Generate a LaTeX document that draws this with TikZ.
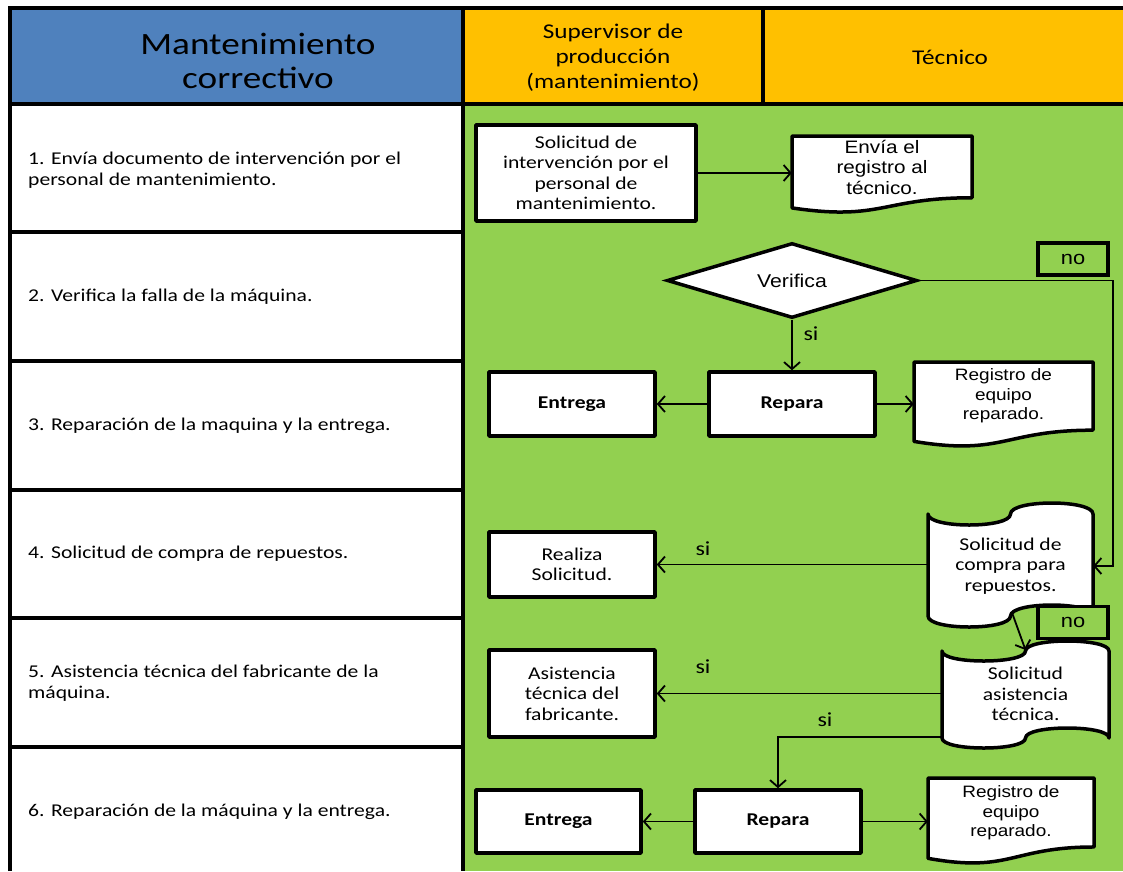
\documentclass[tikz,border=0pt]{standalone}
\usepackage{fontspec}
\setmainfont[FakeStretch=1.2]{Carlito}
\newfontfamily\arialS[FakeStretch=1.15]{Liberation Sans}
\usetikzlibrary{arrows.meta,calc,shapes.geometric}
\definecolor{hblue}{HTML}{4F81BD}
\definecolor{horange}{HTML}{FFC000}
\definecolor{lgreen}{HTML}{92D050}
\newcommand\docshape[4]{% x1, y1, x2, h
  \filldraw[shp] (#1,#2) -- (#3,#2) -- (#3,{#2+0.802*#4})
    .. controls ({(#1+#3)/2},{#2+0.802*#4}) and ({(#1+#3)/2},{#2+1.1075*#4}) .. (#1,{#2+0.934*#4}) -- cycle;}
\newcommand\tapeshape[5]{% x1, y1, x2, y2, a
  \filldraw[shp] (#1,{#2+#5})
    .. controls (#1,{#2+#5+1.333*#5}) and ({(#1+#3)/2},{#2+#5+1.333*#5}) .. ({(#1+#3)/2},{#2+#5})
    .. controls ({(#1+#3)/2},{#2+#5-1.333*#5}) and (#3,{#2+#5-1.333*#5}) .. (#3,{#2+#5})
    -- (#3,{#4-#5})
    .. controls (#3,{#4-#5-1.333*#5}) and ({(#1+#3)/2},{#4-#5-1.333*#5}) .. ({(#1+#3)/2},{#4-#5})
    .. controls ({(#1+#3)/2},{#4-#5+1.333*#5}) and (#1,{#4-#5+1.333*#5}) .. (#1,{#4-#5}) -- cycle;}
\tikzset{
  tbl/.style={line width=4pt},
  pbox/.style={draw, line width=3.5pt, fill=white, rectangle, inner sep=0pt, align=center, line join=round},
  shp/.style={draw, line width=3.5pt, fill=white, line join=round},
  dtext/.style={inner sep=0pt, align=center},
  arr/.style={line width=1.8pt, -{Straight Barb[length=7pt,width=16pt]}},
  lbl/.style={inner sep=0pt, font=\fontsize{20}{22}\selectfont},
  lefttxt/.style={anchor=west, inner sep=0pt, align=left, font=\fontsize{18}{21}\selectfont},
  nobox/.style={draw, line width=3.5pt, fill=lgreen, minimum width=70pt, minimum height=32pt, inner sep=0pt, font=\arialS\fontsize{19}{20}\selectfont},
  bfont/.style={font=\fontsize{18}{20.5}\selectfont},
  bbold/.style={font=\bfseries\fontsize{18}{20}\selectfont},
  afont/.style={font=\arialS\fontsize{18}{20.5}\selectfont},
  rfont/.style={font=\arialS\fontsize{16.5}{19.5}\selectfont},
}
\begin{document}
\begin{tikzpicture}[x=1pt,y=-1pt]
\useasboundingbox (0,0) rectangle (1123,871);
\fill[white] (0,0) rectangle (1123,871);
% header and lanes
\fill[hblue] (10,8) rectangle (463,104);
\fill[horange] (463,8) rectangle (1123,104);
\fill[lgreen] (463,104) rectangle (1123,871);
\draw[tbl] (10,871) -- (10,8) -- (1123,8);
\draw[tbl] (463,8) -- (463,871);
\draw[tbl] (763,8) -- (763,104);
\draw[tbl] (10,104) -- (1123,104);
\foreach \yy in {232,361,490,618,747} \draw[tbl] (10,\yy) -- (463,\yy);
% header texts
\node[inner sep=0pt, align=center, font=\fontsize{31}{34}\selectfont] (hmain) at (258,61) {Mantenimiento\\correctivo};
\node[inner sep=0pt, align=center, font=\fontsize{21}{25}\selectfont] (hsup) at (613,58) {Supervisor de\\producción\\(mantenimiento)};
\node[inner sep=0pt, font=\fontsize{21}{25}\selectfont] (htec) at (950,57) {Técnico};
% left column texts
\node[lefttxt] (s1) at (28,170) {1. Envía documento de intervención por el\\personal de mantenimiento.};
\node[lefttxt] (s2) at (28,297) {2. Verifica la falla de la máquina.};
\node[lefttxt] (s3) at (28,426) {3. Reparación de la maquina y la entrega.};
\node[lefttxt] (s4) at (28,554) {4. Solicitud de compra de repuestos.};
\node[lefttxt] (s5) at (28,683) {5. Asistencia técnica del fabricante de la\\máquina.};
\node[lefttxt] (s6) at (28,812) {6. Reparación de la máquina y la entrega.};
% row 1
\node[pbox, bfont, minimum width=220pt, minimum height=96pt] (sol1) at (586,173) {Solicitud de\\intervención por el\\personal de\\mantenimiento.};
\docshape{792}{136}{972}{77}
\node[dtext, afont, minimum width=180pt] (envia) at (882,167) {Envía el\\registro al\\técnico.};
% row 2
\node[draw, diamond, line width=3.5pt, fill=white, minimum width=250pt, minimum height=75pt, inner sep=0pt, aspect=3.3, font=\arialS\fontsize{18.5}{22}\selectfont] (ver) at (792,280.5) {Verifica};
\node[nobox] (no1) at (1073,259) {no};
% row 3
\node[pbox, bbold, minimum width=166pt, minimum height=64pt] (ent1) at (572,404) {Entrega};
\node[pbox, bbold, minimum width=166pt, minimum height=64pt] (rep1) at (792,404) {Repara};
\docshape{914}{362}{1093}{85}
\node[dtext, rfont, minimum width=179pt] (reg1) at (1003.5,396) {Registro de\\equipo\\reparado.};
% row 4
\node[pbox, bfont, minimum width=166pt, minimum height=65pt] (realiza) at (572,564.5) {Realiza\\Solicitud.};
\tapeshape{928}{503}{1093}{627}{11}
\node[dtext, bfont, minimum width=165pt] (compra) at (1010.5,566) {Solicitud de\\compra para\\repuestos.};
\node[nobox] (no2) at (1073,622.5) {no};
% row 5
\node[pbox, bfont, minimum width=166pt, minimum height=87pt] (fab) at (572,693.5) {Asistencia\\técnica del\\fabricante.};
\tapeshape{942}{641}{1109}{748}{10}
\node[dtext, bfont, minimum width=167pt] (asist) at (1025.5,694) {Solicitud\\asistencia\\técnica.};
% row 6
\node[pbox, bbold, minimum width=165pt, minimum height=63pt] (ent2) at (558.5,821.5) {Entrega};
\node[pbox, bbold, minimum width=166pt, minimum height=63pt] (rep2) at (778,821.5) {Repara};
\docshape{928}{778}{1094}{86}
\node[dtext, rfont, minimum width=166pt] (reg2) at (1011,813) {Registro de\\equipo\\reparado.};
% connectors
\draw[arr] (sol1.east) -- (sol1.east -| envia.west);
\draw[arr] (ver.south) -- (rep1.north);
\node[lbl] (si1) at (811,334) {si};
\coordinate (kx) at (1113,0);
\draw[arr] (ver.east) -| (kx |- compra.east) -- (compra.east);
\draw[arr] (rep1.west) -- (ent1.east);
\draw[arr] (rep1.east) -- (rep1.east -| reg1.west);
\draw[arr] (realiza.east -| compra.west) -- (realiza.east);
\node[lbl] (si2) at (703,549) {si};
\draw[arr] ($(compra.center)+(2,48)$) -- ($(asist.center)+(0,-44)$);
\draw[arr] (asist.west |- fab.east) -- (fab.east);
\node[lbl] (si3) at (703,667) {si};
\draw[arr] ($(asist.west)+(0,43)$) -| (rep2.north);
\node[lbl] (si4) at (825,720) {si};
\draw[arr] (rep2.west) -- (ent2.east);
\draw[arr] (rep2.east) -- (rep2.east -| reg2.west);
\end{tikzpicture}
\end{document}
